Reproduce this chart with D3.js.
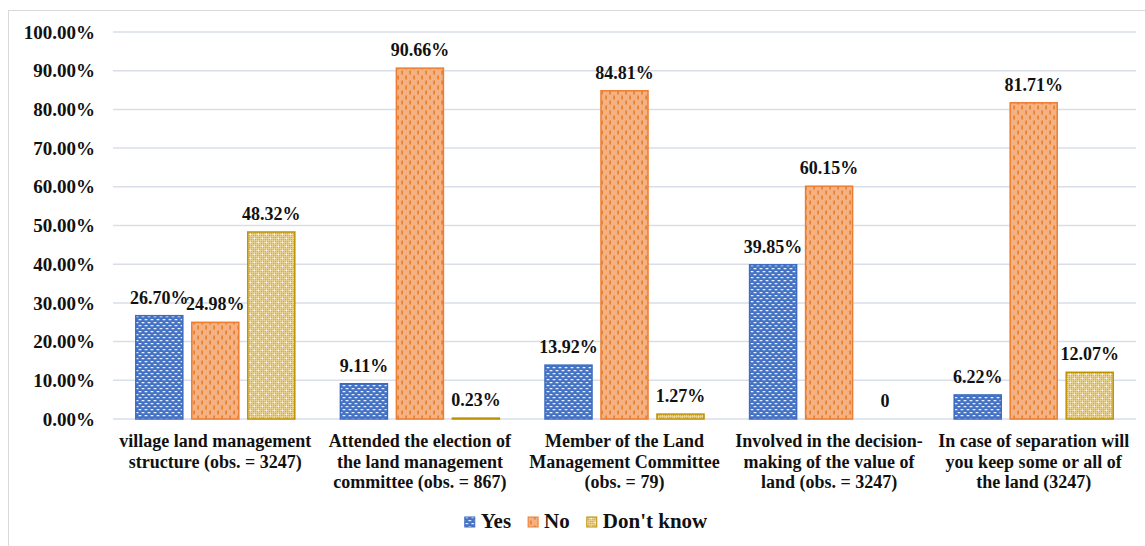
<!DOCTYPE html>
<html><head><meta charset="utf-8">
<script src="https://cdn.jsdelivr.net/npm/d3@7"></script>
</head>
<body style="margin:0">
<svg id="fig" width="1145" height="546"></svg>
<script>
const categories = [
  ["village land management", "structure (obs. = 3247)"],
  ["Attended the election of", "the land management", "committee (obs. = 867)"],
  ["Member of the Land", "Management Committee", "(obs. = 79)"],
  ["Involved in the decision-", "making of the value of", "land (obs. = 3247)"],
  ["In case of separation will", "you keep some or all of", "the land (3247)"]
];
const seriesNames = ["Yes", "No", "Don't know"];
const yesValues = [26.70, 9.11, 13.92, 39.85, 6.22];
const noValues = [24.98, 90.66, 84.81, 60.15, 81.71];
const dkValues = [48.32, 0.23, 1.27, 0, 12.07];
const yTicks = [0, 10, 20, 30, 40, 50, 60, 70, 80, 90, 100];

const FONT = "Liberation Serif";
const svg = d3.select("#fig");
const plot = {left: 113, right: 1136, top: 32, bottom: 419};

function styleText(sel, size) {
  sel.attr("font-family", FONT).attr("font-weight", "bold").attr("font-size", size)
    .style("font-family", FONT, "important").style("font-weight", "bold", "important")
    .style("font-size", size + "px", "important").attr("fill", "#111");
  return sel;
}

svg.append("rect").attr("x", 8.5).attr("y", 10.5).attr("width", 1150).attr("height", 560)
  .attr("fill", "none").attr("stroke", "#d9d9d9").attr("stroke-width", 1);

const defs = svg.append("defs");
const pY = defs.append("pattern").attr("id", "pYes").attr("patternUnits", "userSpaceOnUse")
  .attr("width", 6).attr("height", 6);
pY.append("rect").attr("width", 6).attr("height", 6).attr("fill", "#4472C4");
pY.append("rect").attr("x", 0.5).attr("y", 1).attr("width", 3).attr("height", 1.3).attr("rx", 0.6).attr("fill", "#fff").attr("opacity", 0.9);
pY.append("rect").attr("x", 3.5).attr("y", 4).attr("width", 3).attr("height", 1.3).attr("rx", 0.6).attr("fill", "#fff").attr("opacity", 0.9);
pY.append("rect").attr("x", -2.5).attr("y", 4).attr("width", 3).attr("height", 1.3).attr("rx", 0.6).attr("fill", "#fff").attr("opacity", 0.9);

const pN = defs.append("pattern").attr("id", "pNo").attr("patternUnits", "userSpaceOnUse")
  .attr("width", 8).attr("height", 10);
pN.append("rect").attr("width", 8).attr("height", 10).attr("fill", "#F4B183");
pN.append("rect").attr("x", 1.5).attr("y", 0.5).attr("width", 1.2).attr("height", 4).attr("fill", "#E46C0A");
pN.append("rect").attr("x", 5.5).attr("y", 5.5).attr("width", 1.2).attr("height", 4).attr("fill", "#E46C0A");

const pD = defs.append("pattern").attr("id", "pDk").attr("patternUnits", "userSpaceOnUse")
  .attr("width", 8).attr("height", 8);
pD.append("rect").attr("width", 8).attr("height", 8).attr("fill", "#D2AC45");
[0, 2, 4, 6].forEach(v => {
  pD.append("rect").attr("x", v).attr("y", 0).attr("width", 0.8).attr("height", 8).attr("fill", "#EEDCA8").attr("opacity", 0.8);
  pD.append("rect").attr("x", 0).attr("y", v).attr("width", 8).attr("height", 0.8).attr("fill", "#EEDCA8").attr("opacity", 0.8);
});
pD.append("circle").attr("cx", 2.4).attr("cy", 2.4).attr("r", 0.9).attr("fill", "#fff");
pD.append("circle").attr("cx", 6.4).attr("cy", 6.4).attr("r", 0.9).attr("fill", "#fff");

const fills = ["url(#pYes)", "url(#pNo)", "url(#pDk)"];
const strokes = ["#3C6BC0", "#ED7D31", "#BF9000"];

const y = d3.scaleLinear().domain([0, 100]).range([plot.bottom, plot.top]);
const x0 = d3.scaleBand().domain(d3.range(categories.length)).range([plot.left, plot.right]).padding(0);
const x1 = d3.scaleBand().domain(d3.range(seriesNames.length)).range([0, x0.bandwidth()])
  .paddingInner(0.16).paddingOuter(0.407);

svg.append("g").selectAll("line").data(yTicks).join("line")
  .attr("x1", plot.left).attr("x2", plot.right)
  .attr("y1", d => y(d)).attr("y2", d => y(d))
  .attr("stroke", "#D9DEE8").attr("stroke-width", 1.5);

styleText(svg.append("g").selectAll("text").data(yTicks).join("text")
  .attr("x", 95).attr("y", d => y(d)).attr("dy", "0.35em")
  .attr("text-anchor", "end")
  .text(d => d3.format(".2f")(d) + "%"), 19);

const allSeries = [yesValues, noValues, dkValues];
const fmt = v => v === 0 ? "0" : v.toFixed(2) + "%";

allSeries.forEach((vals, s) => {
  const g = svg.append("g");
  g.selectAll("rect").data(vals).join("rect")
    .attr("x", (d, i) => x0(i) + x1(s))
    .attr("width", x1.bandwidth())
    .attr("y", d => y(d))
    .attr("height", d => y(0) - y(d))
    .attr("fill", fills[s])
    .attr("stroke", strokes[s])
    .attr("stroke-width", d => d > 0 ? 1.5 : 0);
  styleText(g.selectAll("text").data(vals).join("text")
    .attr("x", (d, i) => x0(i) + x1(s) + x1.bandwidth() / 2)
    .attr("y", d => y(d) - 12)
    .attr("text-anchor", "middle")
    .text(d => fmt(d)), 18);
});

const cg = svg.append("g");
categories.forEach((lines, i) => {
  lines.forEach((ln, j) => {
    styleText(cg.append("text").attr("text-anchor", "middle")
      .attr("x", x0(i) + x0.bandwidth() / 2).attr("y", 447 + j * 20.5).text(ln), 18);
  });
});

const lg = svg.append("g");
let lx = 0;
seriesNames.forEach((nm, s) => {
  const it = lg.append("g");
  it.append("rect").attr("x", lx).attr("y", 517).attr("width", 10).attr("height", 10)
    .attr("fill", fills[s]).attr("stroke", strokes[s]).attr("stroke-width", 1);
  const t = styleText(it.append("text").attr("x", lx + 16).attr("y", 528).text(nm), 21);
  const w = t.node().getComputedTextLength();
  lx += 16 + w + 17;
});
const totalW = lx - 17;
lg.attr("transform", `translate(${586 - totalW / 2},0)`);
</script>
</body></html>
